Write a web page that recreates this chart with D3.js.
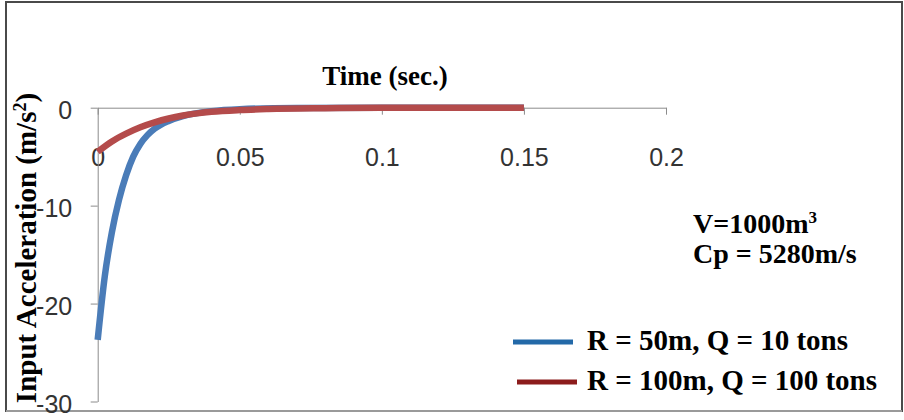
<!DOCTYPE html>
<html>
<head>
<meta charset="utf-8">
<script src="https://cdn.jsdelivr.net/npm/d3@7"></script>
<style>
  html, body { margin: 0; padding: 0; background: #fff; }
  svg { display: block; }
</style>
</head>
<body>
<svg id="chart" width="904" height="420"></svg>
<script>
// ---- data ----
const timeBlue  = [0, 0.0025, 0.005, 0.0075, 0.01, 0.0125, 0.015, 0.0175, 0.02, 0.025, 0.03, 0.035, 0.04, 0.05, 0.07, 0.1, 0.15];
const accelBlue = [-23.7, -17.2, -12.7, -9.4, -6.9, -5.0, -3.7, -2.8, -2.15, -1.35, -0.85, -0.55, -0.35, -0.15, -0.03, 0, 0];
const timeRed   = [0, 0.005, 0.01, 0.015, 0.02, 0.025, 0.03, 0.035, 0.04, 0.05, 0.06, 0.08, 0.1, 0.15];
const accelRed  = [-4.5, -3.45, -2.65, -2.0, -1.5, -1.1, -0.8, -0.58, -0.42, -0.24, -0.14, -0.05, 0.0, 0.0];
const xTicks = [0, 0.05, 0.1, 0.15, 0.2];
const xTickLabels = ["0", "0.05", "0.1", "0.15", "0.2"];
const yTicks = [0, -10, -20, -30];
const yTickLabels = ["0", "-10", "-20", "-30"];
const seriesNames = ["R = 50m, Q = 10 tons", "R = 100m, Q = 100 tons"];
const xTitle = "Time (sec.)";
const yTitle = "Input Acceleration (m/s";
const noteLines = ["V=1000m", "Cp = 5280m/s"];

// ---- layout ----
const svg = d3.select("#chart");
const x = d3.scaleLinear().domain([0, 0.2]).range([97.7, 666]);
const y = d3.scaleLinear().domain([-30, 0]).range([401.5, 107.7]);
const axisColor = "#8c8c8c";
const tickFont = "'Liberation Sans', Arial, sans-serif";
const serif = "'Liberation Serif', 'Times New Roman', serif";

// outer frame
svg.append("rect").attr("x", 6).attr("y", 2).attr("width", 896).attr("height", 409)
  .attr("fill", "#fff").attr("stroke", "#4a4a4a").attr("stroke-width", 2);
svg.append("line").attr("x1", 6).attr("x2", 902).attr("y1", 411).attr("y2", 411)
  .attr("stroke", "#9a9a9a").attr("stroke-width", 2);

// x axis (at y = 0)
const gx = svg.append("g").attr("transform", `translate(0,${y(0)})`)
  .call(d3.axisBottom(x).tickValues(xTicks).tickFormat((d, i) => xTickLabels[i])
    .tickSize(7).tickSizeOuter(0));
gx.select(".domain").attr("stroke", axisColor);
gx.selectAll(".tick line").attr("stroke", axisColor);
gx.selectAll(".tick text").attr("y", 50).attr("dy", "0.35em")
  .attr("font-family", tickFont).attr("font-size", 25).attr("fill", "#333");

// y axis
const gy = svg.append("g").attr("transform", `translate(${x(0)},0)`)
  .call(d3.axisLeft(y).tickValues(yTicks).tickFormat((d, i) => yTickLabels[i])
    .tickSize(7).tickSizeOuter(0).tickPadding(18.5));
gy.select(".domain").attr("stroke", axisColor);
gy.selectAll(".tick line").attr("stroke", axisColor);
gy.selectAll(".tick text").attr("dy", "0.42em")
  .attr("font-family", tickFont).attr("font-size", 25).attr("fill", "#333");

// lines
const line = d3.line().x(d => x(d[0])).y(d => y(d[1])).curve(d3.curveMonotoneX);
const blueData = timeBlue.map((t, i) => [t, accelBlue[i]]);
const redData = timeRed.map((t, i) => [t, accelRed[i]]);
svg.append("path").datum(blueData).attr("d", line)
  .attr("fill", "none").attr("stroke", "#4a7cb8").attr("stroke-width", 6.5);
svg.append("path").datum(redData).attr("d", line)
  .attr("fill", "none").attr("stroke", "#b44b4b").attr("stroke-width", 6.5);

// axis titles
svg.append("text").attr("x", 385).attr("y", 85).attr("text-anchor", "middle")
  .attr("font-family", serif).attr("font-weight", "bold").attr("font-size", 27)
  .attr("fill", "#000").text(xTitle);

const yt = svg.append("text").attr("transform", "translate(36,248) rotate(-90)")
  .attr("text-anchor", "middle")
  .attr("font-family", serif).attr("font-weight", "bold").attr("font-size", 29)
  .attr("fill", "#000");
yt.append("tspan").text(yTitle);
yt.append("tspan").attr("dy", -10).attr("font-size", 18).text("2");
yt.append("tspan").attr("dy", 10).text(")");

// annotation
const n1 = svg.append("text").attr("x", 693).attr("y", 233)
  .attr("font-family", serif).attr("font-weight", "bold").attr("font-size", 28).attr("fill", "#000");
n1.append("tspan").text(noteLines[0]);
n1.append("tspan").attr("dy", -10).attr("font-size", 17).text("3");
svg.append("text").attr("x", 693).attr("y", 263)
  .attr("font-family", serif).attr("font-weight", "bold").attr("font-size", 28).attr("fill", "#000")
  .text(noteLines[1]);

// legend
const legendColors = ["#2369a8", "#8c1c1c"];
const legendY = [342, 382];
const legendX = [[513, 573], [517, 577]];
seriesNames.forEach((name, i) => {
  svg.append("line").attr("x1", legendX[i][0]).attr("x2", legendX[i][1])
    .attr("y1", legendY[i]).attr("y2", legendY[i])
    .attr("stroke", legendColors[i]).attr("stroke-width", 5);
  svg.append("text").attr("x", 587).attr("y", legendY[i] + 8)
    .attr("font-family", serif).attr("font-weight", "bold").attr("font-size", 29)
    .attr("fill", "#000").text(name);
});
</script>
</body>
</html>
